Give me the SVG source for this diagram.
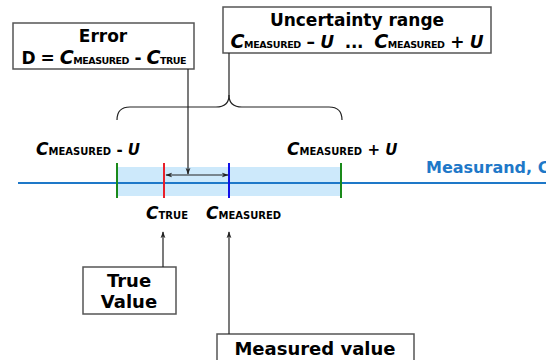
<svg xmlns="http://www.w3.org/2000/svg" width="546" height="360" viewBox="0 0 546 360">
<defs>
<style>
.box{fill:#fff;stroke:#555;stroke-width:1.5}
.t{font-family:"DejaVu Sans","Verdana",sans-serif;font-weight:bold;fill:#000}
.ci{font-style:italic}
.conn{stroke:#222;stroke-width:1.2;fill:none}
</style>
<marker id="ah" viewBox="0 0 10 10" refX="9" refY="5" markerWidth="7" markerHeight="7" orient="auto-start-reverse" markerUnits="userSpaceOnUse">
<path d="M0,1.5 L10,5 L0,8.5 L3,5 Z" fill="#222"/>
</marker>
</defs>
<rect x="0" y="0" width="546" height="360" fill="#fff"/>

<g id="band">
<rect x="117" y="167" width="224" height="29" fill="#cde9fb"/>
</g>
<g id="axis">
<line x1="18" y1="183" x2="546" y2="183" stroke="#1e78c8" stroke-width="2"/>
<text class="t" x="426" y="173" font-size="16" style="fill:#1e78c8">Measurand, C</text>
</g>
<g id="ticks">
<line x1="117" y1="163" x2="117" y2="198" stroke="#1a8a1a" stroke-width="2"/>
<line x1="341" y1="163" x2="341" y2="198" stroke="#1a8a1a" stroke-width="2"/>
<line x1="164" y1="163" x2="164" y2="198" stroke="#e8202a" stroke-width="2"/>
<line x1="229" y1="163" x2="229" y2="198" stroke="#1010e8" stroke-width="2"/>
</g>

<g id="labels">
<text class="t" x="36" y="155" font-size="15"><tspan class="ci" font-size="17">C</tspan><tspan font-size="10">MEASURED</tspan> - <tspan class="ci">U</tspan></text>
<text class="t" x="287" y="155" font-size="15"><tspan class="ci" font-size="17">C</tspan><tspan font-size="10">MEASURED</tspan> + <tspan class="ci">U</tspan></text>
<text class="t" x="146" y="219" font-size="15"><tspan class="ci" font-size="17">C</tspan><tspan font-size="10">TRUE</tspan></text>
<text class="t" x="206" y="219" font-size="15"><tspan class="ci" font-size="17">C</tspan><tspan font-size="10">MEASURED</tspan></text>
</g>

<g id="error">
<rect class="box" x="13" y="23" width="181" height="46"/>
<text class="t" x="103" y="42" font-size="17" text-anchor="middle">Error</text>
<text class="t" x="104" y="64" font-size="17" text-anchor="middle" textLength="165">D = <tspan class="ci" font-size="19">C</tspan><tspan font-size="9.5">MEASURED</tspan> - <tspan class="ci" font-size="19">C</tspan><tspan font-size="9.5">TRUE</tspan></text>
</g>

<g id="uncertainty">
<rect class="box" x="223" y="7" width="268" height="46"/>
<text class="t" x="357" y="26" font-size="17" text-anchor="middle">Uncertainty range</text>
<text class="t" x="357" y="48" font-size="17" text-anchor="middle" xml:space="preserve" textLength="253"><tspan class="ci" font-size="19">C</tspan><tspan font-size="9.5">MEASURED</tspan> – <tspan class="ci">U</tspan>  ...  <tspan class="ci" font-size="19">C</tspan><tspan font-size="9.5">MEASURED</tspan> + <tspan class="ci">U</tspan></text>
</g>

<g id="true-value">
<rect class="box" x="83" y="267" width="93" height="47"/>
<text class="t" x="129" y="287" font-size="18" text-anchor="middle">True</text>
<text class="t" x="129" y="308" font-size="18" text-anchor="middle">Value</text>
</g>

<g id="measured-value">
<rect class="box" x="217" y="334" width="197" height="40"/>
<text class="t" x="315" y="355" font-size="18" text-anchor="middle">Measured value</text>
</g>

<g id="connectors">
<path class="conn" d="M229,53 L229,95 Q229,107 216,107 L130,107 Q117,107 117,120"/>
<path class="conn" d="M229,95 Q229,107 242,107 L329,107 Q342,107 342,120"/>
<line class="conn" x1="188" y1="69" x2="188" y2="174" marker-end="url(#ah)"/>
<line class="conn" x1="166" y1="175" x2="228" y2="175" marker-start="url(#ah)" marker-end="url(#ah)"/>
<line class="conn" x1="163" y1="267" x2="163" y2="232" marker-end="url(#ah)"/>
<line class="conn" x1="229" y1="334" x2="229" y2="232" marker-end="url(#ah)"/>
</g>
</svg>
